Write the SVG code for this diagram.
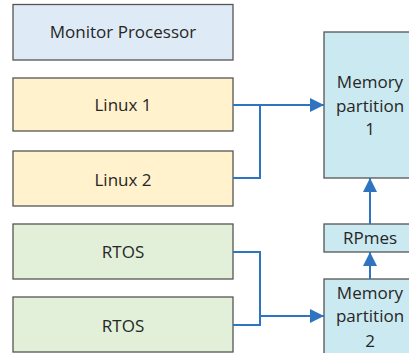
<svg xmlns="http://www.w3.org/2000/svg" width="409" height="353" viewBox="0 0 409 353">
<style>
.box{stroke:#555;stroke-width:1.3}
.mon{fill:#deebf6}
.lin{fill:#fff2cc}
.rt{fill:#e2efd9}
.mem{fill:#cbe9f0}
text{font-family:"Open Sans","Liberation Sans",sans-serif;font-size:17px;fill:#262626;text-anchor:middle}
.con{fill:none;stroke:#2e74c0;stroke-width:2}
</style>
<defs>
<marker id="ah" viewBox="0 0 14 14" refX="14" refY="7" markerWidth="14" markerHeight="14" markerUnits="userSpaceOnUse" orient="auto">
<path d="M0,0 L14,7 L0,14 Z" fill="#2e74c0"/>
</marker>
</defs>
<rect width="409" height="353" fill="#fff"/>
<g id="monitor"><rect class="box mon" x="13" y="4.5" width="220" height="55.5"/><text x="123" y="38">Monitor Processor</text></g>
<g id="linux1"><rect class="box lin" x="13" y="78" width="220" height="53"/><text x="123" y="111">Linux 1</text></g>
<g id="linux2"><rect class="box lin" x="13" y="151" width="220" height="55"/><text x="123" y="186">Linux 2</text></g>
<g id="rtos1"><rect class="box rt" x="13" y="224" width="220" height="55"/><text x="123" y="258">RTOS</text></g>
<g id="rtos2"><rect class="box rt" x="13" y="297" width="220" height="55"/><text x="123" y="332">RTOS</text></g>
<g id="mem1"><rect class="box mem" x="324" y="32" width="92" height="146"/><text x="370" y="88">Memory</text><text x="370" y="112">partition</text><text x="370" y="135">1</text></g>
<g id="rpmes"><rect class="box mem" x="324" y="224" width="92" height="28"/><text x="370" y="244">RPmes</text></g>
<g id="mem2"><rect class="box mem" x="324" y="279" width="92" height="80"/><text x="370" y="299">Memory</text><text x="370" y="322">partition</text><text x="370" y="347">2</text></g>
<g id="connectors">
<path class="con" d="M233,105 H260"/>
<path class="con" d="M233,178 H260 V105 H324" marker-end="url(#ah)"/>
<path class="con" d="M233,252 H260 V325 H233"/>
<path class="con" d="M260,316 H324" marker-end="url(#ah)"/>
<path class="con" d="M370,224 V178" marker-end="url(#ah)"/>
<path class="con" d="M370,279 V252" marker-end="url(#ah)"/>
</g>
</svg>
